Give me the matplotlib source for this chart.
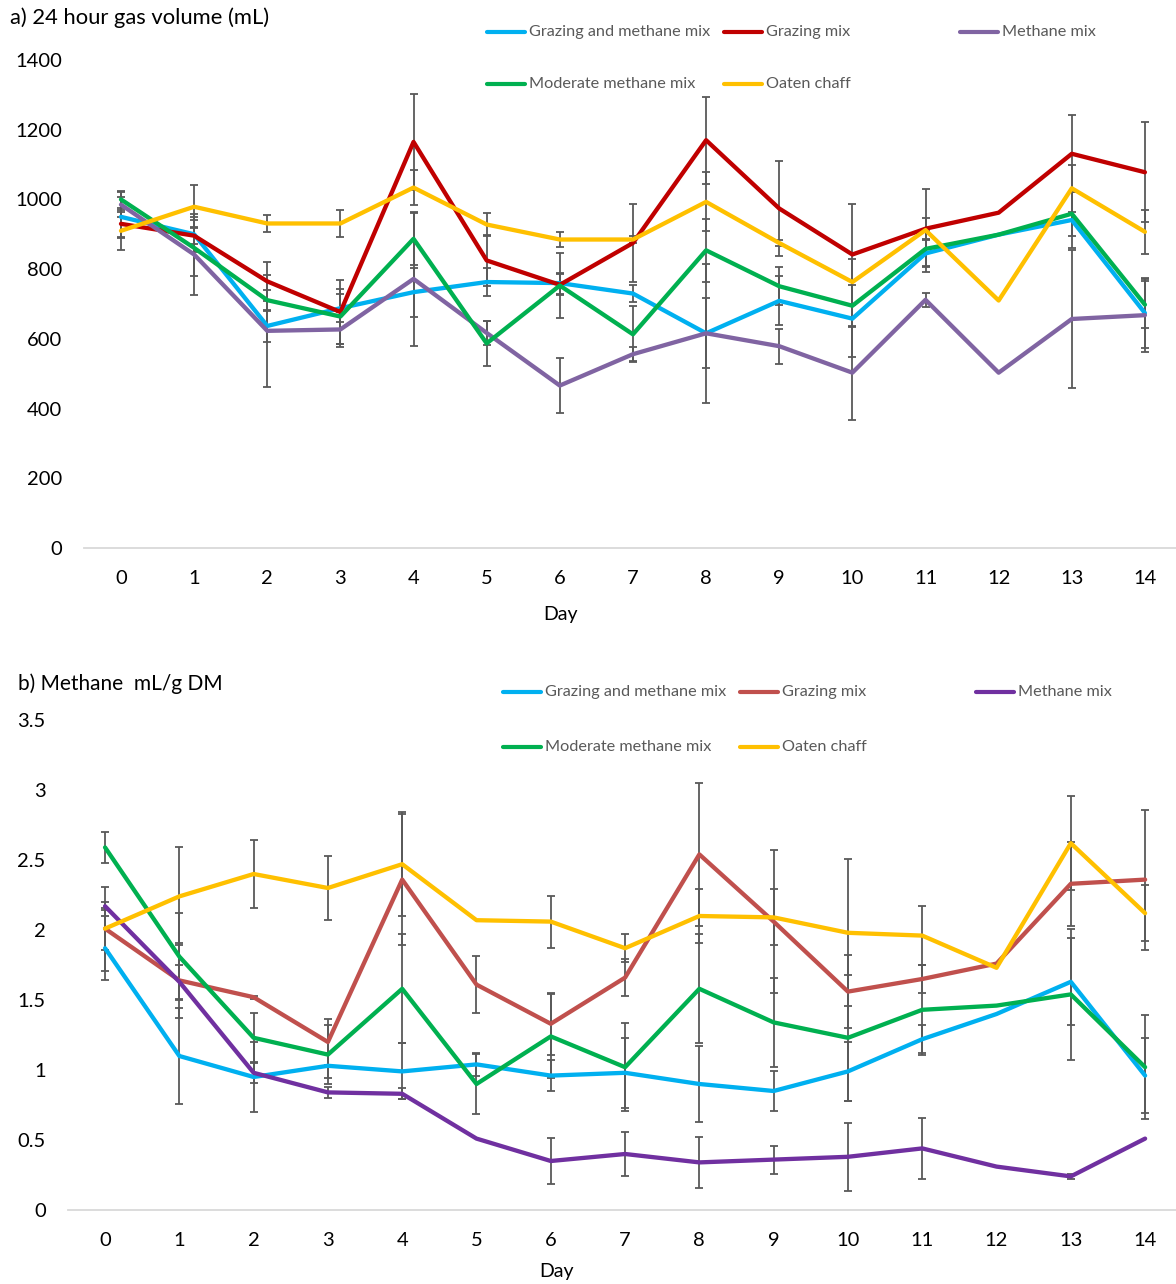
import numpy as np
import matplotlib.pyplot as plt
from matplotlib.lines import Line2D
from matplotlib.ticker import FuncFormatter

plt.rcParams['font.family'] = ['Lato', 'DejaVu Sans']

days = list(range(15))
names = ["Grazing and methane mix", "Grazing mix", "Methane mix",
         "Moderate methane mix", "Oaten chaff"]

# a) 24 hour gas volume (mL), means and error bars (nan = no bar)
gas_gm = [950, 900, 637, 688, 734, 763, 760, 730, 616, 709, 658, 845, 899, 941, 674]
gas_graz = [930, 896, 765, 677, 1165, 825, 755, 875, 1170, 974, 842, 916, 962, 1131, 1078]
gas_meth = [985, 842, 623, 627, 772, 617, 466, 556, 616, 579, 503, 712, 503, 657, 668]
gas_mod = [1000, 861, 711, 664, 887, 587, 753, 613, 854, 751, 695, 858, 899, 959, 698]
gas_oat = [910, 979, 931, 931, 1034, 928, 885, 885, 993, 875, 763, 912, 710, 1032, 907]

gas_gm_err = [57, 50, 45, 40, 70, 40, 30, 25, 100, 70, 110, 40, np.nan, 80, 100]
gas_graz_err = [40, 25, 55, 93, 137, 72, 30, 113, 125, 137, 144, 30, np.nan, 111, 144]
gas_meth_err = [35, 115, 160, 50, 193, 35, 78, 20, 200, 50, 135, 20, np.nan, 197, 105]
gas_mod_err = [25, 80, 30, 80, 75, 65, 93, 80, 90, 55, 60, 50, np.nan, 63, 67]
gas_oat_err = [55, 62, 25, 40, 50, 34, 22, 10, 85, 10, 65, 119, np.nan, 67, 64]

# b) Methane mL/g DM
ch4_gm = [1.87, 1.10, 0.95, 1.03, 0.99, 1.04, 0.96, 0.98, 0.90, 0.85, 0.99, 1.22, 1.40, 1.63, 0.96]
ch4_graz = [2.01, 1.64, 1.52, 1.20, 2.36, 1.61, 1.33, 1.66, 2.54, 2.06, 1.56, 1.65, 1.76, 2.33, 2.36]
ch4_meth = [2.17, 1.63, 0.98, 0.84, 0.83, 0.51, 0.35, 0.40, 0.34, 0.36, 0.38, 0.44, 0.31, 0.24, 0.51]
ch4_mod = [2.59, 1.81, 1.23, 1.11, 1.58, 0.90, 1.24, 1.02, 1.58, 1.34, 1.23, 1.43, 1.46, 1.54, 1.02]
ch4_oat = [2.01, 2.24, 2.40, 2.30, 2.47, 2.07, 2.06, 1.87, 2.10, 2.09, 1.98, 1.96, 1.73, 2.62, 2.12]

ch4_gm_err = [0.23, 0.345, 0.25, 0.09, 0.20, 0.08, 0.11, 0.25, 0.27, 0.145, 0.21, 0.10, np.nan, 0.31, 0.27]
ch4_graz_err = [0.15, 0.27, 0.01, 0.165, 0.47, 0.205, 0.22, 0.13, 0.51, 0.51, 0.26, 0.10, np.nan, 0.30, 0.50]
ch4_meth_err = [0.03, 0.12, 0.07, 0.04, 0.04, np.nan, 0.163, 0.156, 0.18, 0.10, 0.245, 0.22, np.nan, 0.02, np.nan]
ch4_mod_err = [0.11, 0.31, 0.175, 0.21, 0.39, 0.217, 0.30, 0.316, 0.39, 0.32, 0.45, 0.32, np.nan, 0.47, 0.37]
ch4_oat_err = [0.30, 0.35, 0.245, 0.23, 0.37, np.nan, 0.185, 0.10, 0.19, 0.20, 0.526, 0.21, np.nan, 0.335, 0.20]

colors_a = ["#00B0F0", "#C00000", "#8064A2", "#00B050", "#FFC000"]
colors_b = ["#00B0F0", "#C0504D", "#7030A0", "#00B050", "#FFC000"]

W, H = 1176, 1284
fig = plt.figure(figsize=(W / 100, H / 100), dpi=100)


def panel(left, top, bottom, step, vals, errs, colors, ylim, yticks, fmt):
    right = W
    ax = fig.add_axes([left / W, 1 - bottom / H, (right - left) / W, (bottom - top) / H])
    for v, e, c in zip(vals, errs, colors):
        ax.errorbar(days, v, yerr=e, color=c, lw=3.1, ecolor="#595959",
                    elinewidth=1.3, capsize=3.2, capthick=1.3,
                    solid_joinstyle="round", solid_capstyle="round")
    ax.set_xlim(-0.5, -0.5 + (right - left) / step)
    ax.set_ylim(*ylim)
    ax.set_xticks(days)
    ax.set_yticks(yticks)
    ax.yaxis.set_major_formatter(FuncFormatter(fmt))
    ax.tick_params(length=0, pad=16, labelsize=14.5, colors="black")
    for s in ["left", "top", "right"]:
        ax.spines[s].set_visible(False)
    ax.spines["bottom"].set_color("#D9D9D9")
    ax.spines["bottom"].set_linewidth(1.3)
    ax.set_xlabel("Day", fontsize=14)
    return ax


def legend(x0, rows, colors):
    col_step = 236.5
    for i, (name, c) in enumerate(zip(names, colors)):
        r, col = divmod(i, 3)
        x = x0 + col * col_step
        y = 1 - rows[r] / H
        fig.add_artist(Line2D([x / W, (x + 38) / W], [y, y], color=c, lw=3,
                              solid_capstyle="round", transform=fig.transFigure))
        fig.text((x + 42) / W, y, name, fontsize=11.7, color="#595959", va="center")


ax1 = panel(84.4, 60, 548, 73.14,
            [gas_gm, gas_graz, gas_meth, gas_mod, gas_oat],
            [gas_gm_err, gas_graz_err, gas_meth_err, gas_mod_err, gas_oat_err],
            colors_a, (0, 1400), range(0, 1401, 200), lambda v, p: f"{v:g}")
ax1.xaxis.set_label_coords(0.436, -0.118)
fig.text(10 / W, 1 - 18 / H, "a) 24 hour gas volume (mL)", fontsize=15.8, va="center")
legend(487, [32, 84], colors_a)

ax2 = panel(67.9, 720, 1210, 74.29,
            [ch4_gm, ch4_graz, ch4_meth, ch4_mod, ch4_oat],
            [ch4_gm_err, ch4_graz_err, ch4_meth_err, ch4_mod_err, ch4_oat_err],
            colors_b, (0, 3.5), np.arange(0, 3.51, 0.5), lambda v, p: f"{v:g}")
ax2.xaxis.set_label_coords(0.441, -0.108)
fig.text(18 / W, 1 - 684 / H, "b) Methane  mL/g DM", fontsize=15, va="center")
legend(503, [692, 747], colors_b)

fig.savefig("out.png", dpi=100)
